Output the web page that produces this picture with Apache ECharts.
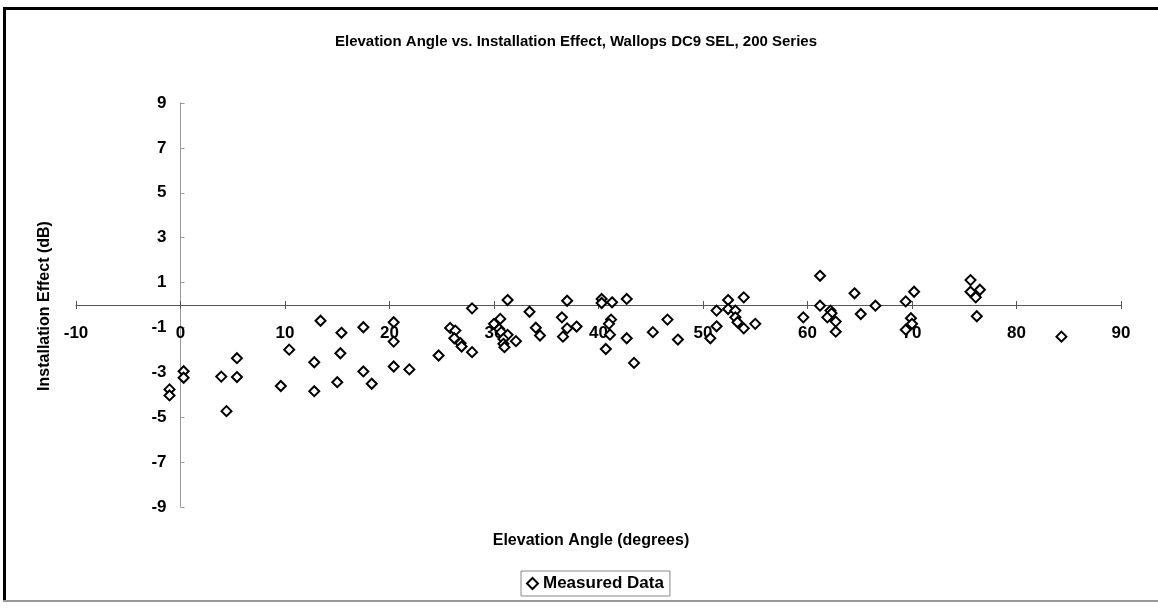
<!DOCTYPE html>
<html>
<head>
<meta charset="utf-8">
<script src="https://cdn.jsdelivr.net/npm/echarts@6/dist/echarts.min.js"></script>
<style>
html,body{margin:0;padding:0;background:#fff;}
#chart{width:1158px;height:612px;}
</style>
</head>
<body>
<div id="chart"></div>
<script>
// Elevation angle (degrees)
var elevation = [
  13.4, 15.4, 17.5, 20.4, 20.4, 10.4, 5.4, 15.3, 12.8, 20.4, 17.5, 0.3, 0.3, 3.9, 5.4, 9.6, 12.8, 15.0, 18.3, -1.05, -1.05, 4.4,
  21.9, 24.7, 25.8, 26.3, 26.2, 26.8, 26.9, 27.9, 27.9, 30.0, 30.6, 30.5, 30.7, 31.3, 30.9, 30.9, 31.0, 31.3, 32.1, 33.4, 34.0, 34.4,
  36.5, 37.0, 37.0, 36.6, 37.9, 40.3, 40.3, 41.3, 41.2, 41.0, 41.1, 40.7, 42.7, 42.7, 43.4, 45.2, 46.6, 47.6, 50.7, 51.3, 51.3,
  52.4, 52.4, 53.1, 53.1, 53.3, 53.9, 53.9, 55.0,
  59.6, 61.2, 61.2, 62.2, 62.3, 61.9, 62.7, 62.7, 64.5, 65.1, 66.5, 69.4, 70.2, 69.9, 70.0, 69.4, 75.6, 75.6, 76.5, 76.1, 76.2, 84.3
];
// Installation effect (dB)
var effect = [
  -0.70, -1.24, -0.99, -0.77, -1.63, -1.99, -2.37, -2.15, -2.55, -2.74, -2.96, -2.95, -3.24, -3.19, -3.21, -3.61, -3.84, -3.44, -3.51, -3.76, -4.03, -4.73,
  -2.87, -2.25, -1.02, -1.14, -1.48, -1.70, -1.85, -0.15, -2.10, -0.84, -0.62, -1.07, -1.21, -1.33, -1.51, -1.73, -1.88, 0.22, -1.61, -0.30, -1.01, -1.36,
  -0.55, 0.19, -1.04, -1.41, -0.96, 0.27, 0.09, 0.12, -0.65, -0.84, -1.32, -1.96, 0.27, -1.48, -2.58, -1.21, -0.65, -1.54, -1.48, -0.95, -0.25,
  0.22, -0.18, -0.25, -0.55, -0.77, 0.34, -1.04, -0.84,
  -0.55, 1.30, -0.03, -0.25, -0.37, -0.55, -0.74, -1.19, 0.52, -0.40, -0.03, 0.16, 0.59, -0.59, -0.84, -1.10, 1.11, 0.59, 0.68, 0.34, -0.50, -1.41
];
var seriesName = 'Measured Data';
var chartTitle = 'Elevation Angle vs. Installation Effect, Wallops DC9 SEL, 200 Series';
var xTitle = 'Elevation Angle (degrees)';
var yTitle = 'Installation Effect (dB)';

var points = elevation.map(function (x, i) { return [x, effect[i]]; });
var FONT = '"Liberation Sans", Arial, sans-serif';

// plot box
var GL = 76, GR = 37, GT = 103, GB = 105, W = 1158, H = 612;
var xMin = -10, xMax = 90, yMin = -9, yMax = 9;
// place axes where the other axis is zero (Excel style crossing)
var y0px = GT + (H - GT - GB) * (yMax - 0) / (yMax - yMin);
var x0px = GL + (W - GL - GR) * (0 - xMin) / (xMax - xMin);
var xOffBottom = -((H - GB) - y0px);
var xOffTop = -(y0px - GT);
var yOff = -(x0px - GL);

var chart = echarts.init(document.getElementById('chart'), null, {renderer: 'canvas'});
chart.setOption({
  backgroundColor: '#fff',
  animation: false,
  textStyle: {fontFamily: FONT, color: '#000'},
  title: {
    text: chartTitle, left: 571, textAlign: 'center', top: 29,
    textStyle: {fontFamily: FONT, fontSize: 15, fontWeight: 'bold', color: '#000'}
  },
  legend: {
    data: [seriesName], left: 521, top: 571,
    itemWidth: 11, itemHeight: 11, itemGap: 4,
    padding: [4, 6, 4, 5],
    borderColor: '#888', borderWidth: 1,
    textStyle: {fontFamily: FONT, fontSize: 17, fontWeight: 'bold', color: '#000'}
  },
  grid: {left: GL, right: GR, top: GT, bottom: GB, containLabel: false},
  xAxis: [{
    type: 'value', min: xMin, max: xMax, interval: 10, position: 'bottom', offset: xOffBottom,
    axisLine: {onZero: false, lineStyle: {color: '#555', width: 1}},
    axisTick: {show: true, inside: false, length: 4, lineStyle: {color: '#555'}},
    axisLabel: {margin: 20, fontFamily: FONT, fontSize: 17, fontWeight: 'bold', color: '#000'},
    splitLine: {show: false}
  }, {
    type: 'value', min: xMin, max: xMax, interval: 10, position: 'top', offset: xOffTop,
    axisLine: {show: false, onZero: false},
    axisTick: {show: true, inside: false, length: 4, lineStyle: {color: '#555'}},
    axisLabel: {show: false},
    splitLine: {show: false}
  }],
  yAxis: {
    type: 'value', min: yMin, max: yMax, interval: 2, position: 'left', offset: yOff,
    axisLine: {onZero: false, lineStyle: {color: '#999', width: 1}},
    axisTick: {show: true, inside: true, length: 4, lineStyle: {color: '#999'}},
    axisLabel: {margin: 14, fontFamily: FONT, fontSize: 17, fontWeight: 'bold', color: '#000'},
    splitLine: {show: false}
  },
  graphic: [
    {type: 'rect', shape: {x: 3, y: 7, width: 3, height: 594}, style: {fill: '#000'}},
    {type: 'rect', shape: {x: 3, y: 7, width: 1155, height: 3}, style: {fill: '#000'}},
    {type: 'rect', shape: {x: 3, y: 600, width: 1155, height: 2}, style: {fill: '#999'}},
    {type: 'text', x: 591, y: 541, style: {text: xTitle, font: 'bold 16px ' + FONT, fill: '#000', align: 'center', verticalAlign: 'middle'}},
    {type: 'text', x: 45, y: 306, rotation: Math.PI / 2, style: {text: yTitle, font: 'bold 16px ' + FONT, fill: '#000', align: 'center', verticalAlign: 'middle'}}
  ],
  series: [{
    name: seriesName, type: 'scatter', xAxisIndex: 0,
    data: points,
    symbol: 'diamond', symbolSize: 10,
    itemStyle: {color: '#fff', borderColor: '#000', borderWidth: 2, opacity: 1}
  }]
});
</script>
</body>
</html>
